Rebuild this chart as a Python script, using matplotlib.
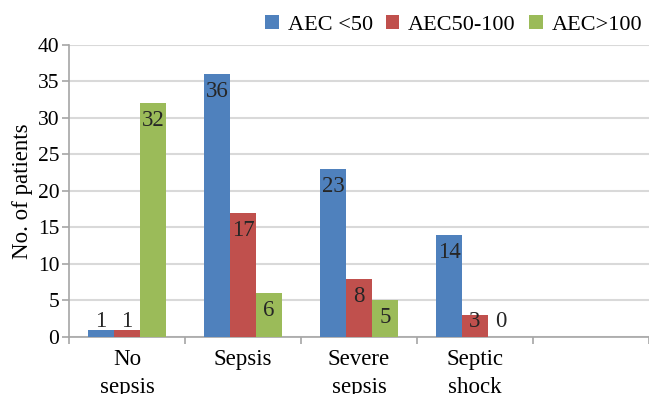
import numpy as np
import matplotlib
matplotlib.use("Agg")
import matplotlib.pyplot as plt

plt.rcParams['font.family'] = ['Liberation Serif', 'DejaVu Serif']

# Patients per group, by absolute eosinophil count band
categories = ["No\nsepsis", "Sepsis", "Severe\nsepsis", "Septic\nshock", ""]
aec_lt50 = [1, 36, 23, 14]
aec_50_100 = [1, 17, 8, 3]
aec_gt100 = [32, 6, 5, 0]
series_names = ["AEC <50", "AEC50-100", "AEC>100"]
colors = ["#4F81BD", "#C0504D", "#9BBB59"]

fig = plt.figure(figsize=(6.49, 3.94), dpi=100)
ax = fig.add_axes([0.1063, 0.1447, 0.8937, 0.7411])

w = 0.224
x = np.arange(len(aec_lt50)) + 0.5
for j, (vals, name, c) in enumerate(zip([aec_lt50, aec_50_100, aec_gt100], series_names, colors)):
    pos = x + (j - 1) * w
    ax.bar(pos, vals, width=w, color=c, label=name, zorder=3)
    for px, v in zip(pos, vals):
        # label sits just inside the top of the bar, but never below the baseline
        ly = max(v - 2.05, 2.47)
        ax.text(px, ly, str(v), ha="center", va="center_baseline",
                fontsize=16.5, color="#262626", zorder=4)

ax.set_xlim(0, len(categories))
ax.set_ylim(0, 40)
ax.set_yticks(range(0, 41, 5))
ax.set_xticks(range(len(categories) + 1))
ax.set_xticklabels([])
ax.set_xticks(np.arange(len(categories)) + 0.5, minor=True)
ax.set_xticklabels(categories, minor=True, fontsize=16.5, linespacing=1.4)
ax.tick_params(axis="x", which="minor", length=0, pad=9)
ax.tick_params(axis="x", which="major", length=5, color="#a6a6a6", width=1.2)
ax.tick_params(axis="y", length=5, color="#a6a6a6", width=1.2, labelsize=15.5, pad=2)

ax.grid(axis="y", color="#d9d9d9", linewidth=1.5, zorder=0)
for s in ["top", "right"]:
    ax.spines[s].set_visible(False)
for s in ["left", "bottom"]:
    ax.spines[s].set_color("#a6a6a6")
    ax.spines[s].set_linewidth(1.2)

ax.set_ylabel("No. of patients", fontsize=16.5, labelpad=3)

fig.legend(loc="center right", bbox_to_anchor=(1.003, 0.937), ncol=3, frameon=False,
           fontsize=16, handlelength=0.6, handleheight=0.6, handletextpad=0.4,
           columnspacing=0.6, borderaxespad=0)

fig.savefig("out.png", dpi=100)
